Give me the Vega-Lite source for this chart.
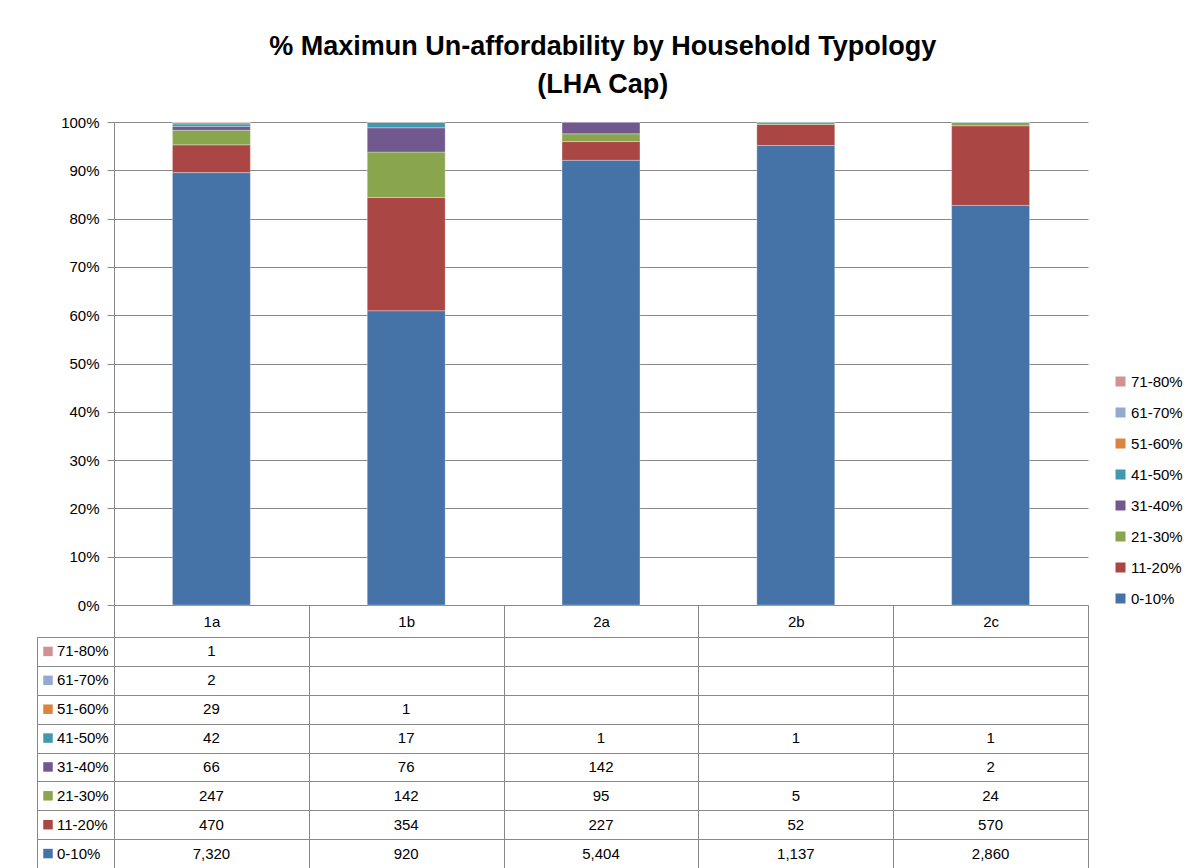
{
  "$schema": "https://vega.github.io/schema/vega-lite/v6.json",
  "title": {"text": ["% Maximun Un-affordability by Household Typology", "(LHA Cap)"], "font": "Liberation Sans", "fontSize": 27, "fontWeight": "bold", "lineHeight": 38, "color": "#000000", "anchor": "middle", "offset": 16, "dx": -7},
  "padding": {"left": 36, "top": 33, "right": 4, "bottom": 0},
  "config": {
    "font": "Liberation Sans",
    "view": {"stroke": null},
    "axis": {"labelFont": "Liberation Sans", "labelFontSize": 15, "labelColor": "#000000"},
    "legend": {"labelFont": "Liberation Sans", "labelFontSize": 15, "labelColor": "#000000"}
  },
  "datasets": {
    "counts": [
      {"group": "1a", "band": "0-10%", "count": 7320},
      {"group": "1a", "band": "11-20%", "count": 470},
      {"group": "1a", "band": "21-30%", "count": 247},
      {"group": "1a", "band": "31-40%", "count": 66},
      {"group": "1a", "band": "41-50%", "count": 42},
      {"group": "1a", "band": "51-60%", "count": 29},
      {"group": "1a", "band": "61-70%", "count": 2},
      {"group": "1a", "band": "71-80%", "count": 1},
      {"group": "1b", "band": "0-10%", "count": 920},
      {"group": "1b", "band": "11-20%", "count": 354},
      {"group": "1b", "band": "21-30%", "count": 142},
      {"group": "1b", "band": "31-40%", "count": 76},
      {"group": "1b", "band": "41-50%", "count": 17},
      {"group": "1b", "band": "51-60%", "count": 1},
      {"group": "2a", "band": "0-10%", "count": 5404},
      {"group": "2a", "band": "11-20%", "count": 227},
      {"group": "2a", "band": "21-30%", "count": 95},
      {"group": "2a", "band": "31-40%", "count": 142},
      {"group": "2a", "band": "41-50%", "count": 1},
      {"group": "2b", "band": "0-10%", "count": 1137},
      {"group": "2b", "band": "11-20%", "count": 52},
      {"group": "2b", "band": "21-30%", "count": 5},
      {"group": "2b", "band": "41-50%", "count": 1},
      {"group": "2c", "band": "0-10%", "count": 2860},
      {"group": "2c", "band": "11-20%", "count": 570},
      {"group": "2c", "band": "21-30%", "count": 24},
      {"group": "2c", "band": "31-40%", "count": 2},
      {"group": "2c", "band": "41-50%", "count": 1}
    ]
  },
  "data": {"name": "counts"},
  "columns": 2,
  "spacing": {"row": 32, "column": 0},
  "bounds": "flush",
  "concat": [
    {
      "width": 77,
      "height": 483,
      "data": {"values": []},
      "mark": {"type": "point", "opacity": 0},
      "encoding": {}
    },
    {
      "width": 974,
      "height": 483,
      "mark": {"type": "bar", "stroke": "#ffffff", "strokeWidth": 0.6, "strokeOpacity": 0.5},
      "encoding": {
        "x": {"field": "group", "type": "nominal", "scale": {"domain": ["1a", "1b", "2a", "2b", "2c"], "paddingInner": 0.6, "paddingOuter": 0.3}, "axis": null},
        "y": {
          "field": "count", "type": "quantitative", "stack": "normalize",
          "scale": {"domain": [0, 1]},
          "axis": {"format": ".0%", "values": [0, 0.1, 0.2, 0.3, 0.4, 0.5, 0.6, 0.7, 0.8, 0.9, 1], "grid": true, "gridColor": "#888888", "domainColor": "#888888", "tickColor": "#888888", "tickSize": 7, "labelPadding": 8, "title": null}
        },
        "color": {
          "field": "band", "type": "nominal",
          "scale": {
            "domain": ["71-80%", "61-70%", "51-60%", "41-50%", "31-40%", "21-30%", "11-20%", "0-10%"],
            "range": ["#D19392", "#93A9CF", "#DB843D", "#4198AF", "#71588F", "#89A54E", "#AA4643", "#4572A7"]
          },
          "legend": {"title": null, "orient": "none", "legendX": 1076, "legendY": 252, "symbolType": "square", "symbolSize": 100, "symbolStrokeWidth": 0, "rowPadding": 15, "labelOffset": 3}
        },
        "order": {"field": "band", "type": "nominal", "sort": "ascending"}
      }
    },
    {
      "width": 77,
      "height": 231,
      "view": {"stroke": "#888888"},
      "transform": [{"aggregate": [], "groupby": ["band"]}],
      "encoding": {
        "y": {
          "field": "band", "type": "nominal",
          "scale": {"domain": ["71-80%", "61-70%", "51-60%", "41-50%", "31-40%", "21-30%", "11-20%", "0-10%"], "paddingInner": 0, "paddingOuter": 0},
          "axis": {"grid": true, "tickBand": "extent", "gridColor": "#888888", "labels": false, "ticks": false, "domain": false, "title": null}
        }
      },
      "layer": [
        {
          "mark": {"type": "square", "size": 90, "opacity": 1},
          "encoding": {
            "x": {"datum": 11, "type": "quantitative", "scale": {"domain": [0, 77]}, "axis": null},
            "color": {"field": "band", "type": "nominal"}
          }
        },
        {
          "mark": {"type": "text", "align": "left", "baseline": "middle", "fontSize": 15, "color": "#000000"},
          "encoding": {
            "x": {"datum": 20, "type": "quantitative", "scale": {"domain": [0, 77]}, "axis": null},
            "text": {"field": "band", "type": "nominal"}
          }
        }
      ]
    },
    {
      "width": 974,
      "height": 231,
      "view": {"stroke": "#888888"},
      "mark": {"type": "text", "fontSize": 15, "align": "center", "baseline": "middle", "color": "#000000"},
      "encoding": {
        "x": {
          "field": "group", "type": "nominal",
          "scale": {"domain": ["1a", "1b", "2a", "2b", "2c"], "paddingInner": 0, "paddingOuter": 0},
          "axis": {"orient": "top", "tickBand": "extent", "tickSize": 32, "labelPadding": -16, "labelBaseline": "middle", "labelAngle": 0, "grid": true, "gridColor": "#888888", "tickColor": "#888888", "domainColor": "#888888", "title": null}
        },
        "y": {
          "field": "band", "type": "nominal",
          "scale": {"domain": ["71-80%", "61-70%", "51-60%", "41-50%", "31-40%", "21-30%", "11-20%", "0-10%"], "paddingInner": 0, "paddingOuter": 0},
          "axis": {"grid": true, "tickBand": "extent", "gridColor": "#888888", "labels": false, "ticks": false, "domain": false, "title": null}
        },
        "text": {"field": "count", "type": "quantitative", "format": ","}
      }
    }
  ]
}
